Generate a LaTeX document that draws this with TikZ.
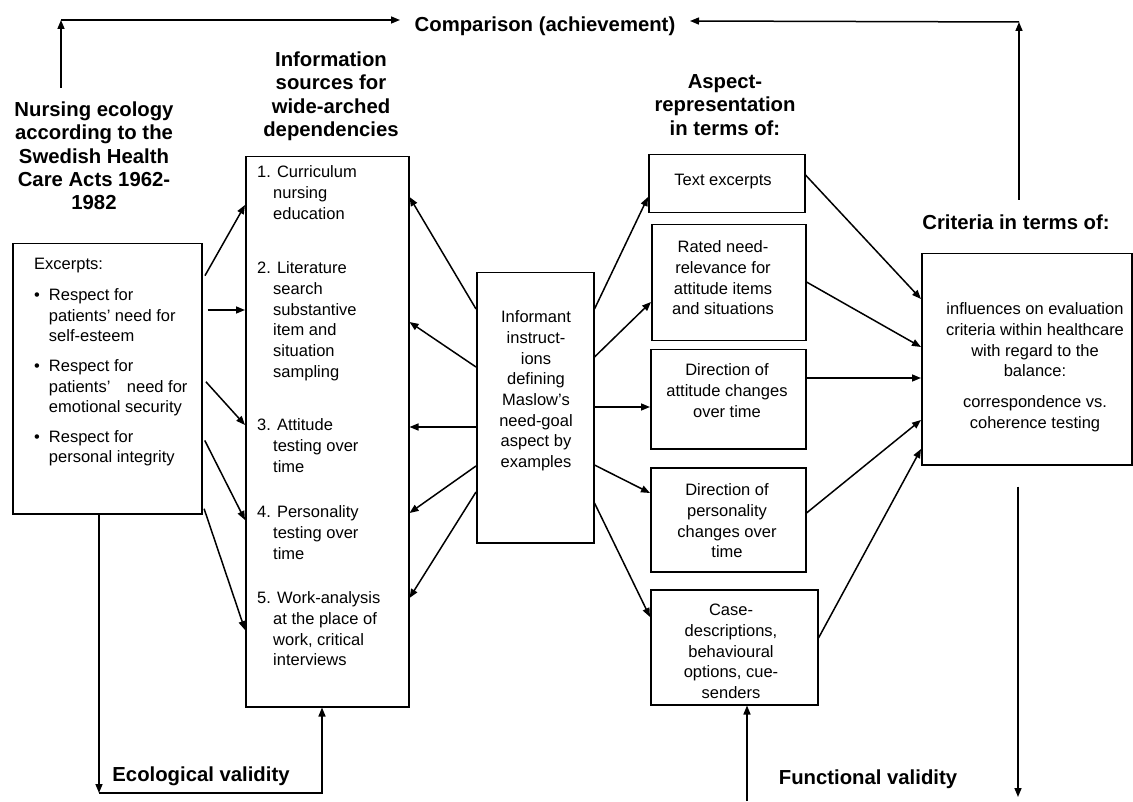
\documentclass[tikz,border=0pt]{standalone}
\usepackage{fontspec}
\setmainfont{Liberation Sans}
\usetikzlibrary{arrows.meta}
\begin{document}
\begin{tikzpicture}[x=1pt,y=-1pt,
  box/.style={draw, line width=1.5pt, inner sep=0pt, anchor=north west},
  arr/.style={line width=1.5pt, -{Triangle[length=9pt,width=7pt]}},
  ln/.style={line width=1.5pt},
  reg/.style={inner sep=0pt, font=\fontsize{16.5}{20.7}\selectfont},
  hd/.style={inner sep=0pt, font=\fontsize{20.3}{23.2}\selectfont\bfseries},
]
\useasboundingbox (0,0) rectangle (1133,802);

% ---------- boxes ----------
\node[box, minimum width=189pt, minimum height=270pt] (lb) at (12,243) {};
\node[box, minimum width=163pt, minimum height=550pt] (ib) at (245,156) {};
\node[box, minimum width=117pt, minimum height=270pt] (mb) at (476,272) {};
\node[box, minimum width=156pt, minimum height=58pt]  (t1) at (648,154) {};
\node[box, minimum width=154pt, minimum height=116pt] (t2) at (651,224) {};
\node[box, minimum width=155pt, minimum height=99pt]  (t3) at (650,349) {};
\node[box, minimum width=155pt, minimum height=104pt] (t4) at (650,467) {};
\node[box, minimum width=167pt, minimum height=115pt] (t5) at (650,589) {};
\node[box, minimum width=210pt, minimum height=211pt] (cb) at (921,253) {};

% ---------- headings ----------
\node[hd, anchor=north] (ne) at (94,100.3) {\begin{tabular}{@{}c@{}}Nursing ecology\\according to the\\Swedish Health\\Care Acts 1962-\\1982\end{tabular}};
\node[hd, anchor=north] (is) at (331,50.3) {\begin{tabular}{@{}c@{}}Information\\sources for\\wide-arched\\dependencies\end{tabular}};
\node[hd, anchor=north] (ar) at (725,72.3) {\begin{tabular}{@{}c@{}}Aspect-\\representation\\in terms of:\end{tabular}};
\node[hd, anchor=north] (cmp) at (545,15.3) {\begin{tabular}{@{}c@{}}Comparison (achievement)\end{tabular}};
\node[hd, anchor=north] (crt) at (1016,213.3) {\begin{tabular}{@{}c@{}}Criteria in terms of:\end{tabular}};
\node[hd, anchor=north] (eco) at (201,765.3) {\begin{tabular}{@{}c@{}}Ecological validity\end{tabular}};
\node[hd, anchor=north] (fun) at (868,768.3) {\begin{tabular}{@{}c@{}}Functional validity\end{tabular}};

% ---------- box texts ----------
\node[reg, anchor=north west] (lbt) at (34,255) {\begin{tabular}{@{}l@{\hspace{9pt}}l@{}}
\multicolumn{2}{@{}l@{}}{Excerpts:}\\[10pt]
\textbullet & Respect for\\
 & patients’ need for\\
 & self-esteem\\[9pt]
\textbullet & Respect for\\
 & patients’\quad need for\\
 & emotional security\\[8.5pt]
\textbullet & Respect for\\
 & personal integrity
\end{tabular}};

\node[reg, anchor=north west] (i1) at (257,163) {\begin{tabular}{@{}p{16pt}@{}l@{}}
\multicolumn{2}{@{}l@{}}{1. Curriculum}\\ & nursing\\ & education\end{tabular}};
\node[reg, anchor=north west] (i2) at (257,259) {\begin{tabular}{@{}p{16pt}@{}l@{}}
\multicolumn{2}{@{}l@{}}{2. Literature}\\ & search\\ & substantive\\ & item and\\ & situation\\ & sampling\end{tabular}};
\node[reg, anchor=north west] (i3) at (257,416) {\begin{tabular}{@{}p{16pt}@{}l@{}}
\multicolumn{2}{@{}l@{}}{3. Attitude}\\ & testing over\\ & time\end{tabular}};
\node[reg, anchor=north west] (i4) at (257,503) {\begin{tabular}{@{}p{16pt}@{}l@{}}
\multicolumn{2}{@{}l@{}}{4. Personality}\\ & testing over\\ & time\end{tabular}};
\node[reg, anchor=north west] (i5) at (257,589) {\begin{tabular}{@{}p{16pt}@{}l@{}}
\multicolumn{2}{@{}l@{}}{5. Work-analysis}\\ & at the place of\\ & work, critical\\ & interviews\end{tabular}};

\node[reg, anchor=north] (mbt) at (536,308) {\begin{tabular}{@{}c@{}}Informant\\instruct-\\ions\\defining\\Maslow’s\\need-goal\\aspect by\\examples\end{tabular}};

\node[reg, anchor=north] (t1t) at (723,171) {\begin{tabular}{@{}c@{}}Text excerpts\end{tabular}};
\node[reg, anchor=north] (t2t) at (723,238) {\begin{tabular}{@{}c@{}}Rated need-\\relevance for\\attitude items\\and situations\end{tabular}};
\node[reg, anchor=north] (t3t) at (727,361) {\begin{tabular}{@{}c@{}}Direction of\\attitude changes\\over time\end{tabular}};
\node[reg, anchor=north] (t4t) at (727,481) {\begin{tabular}{@{}c@{}}Direction of\\personality\\changes over\\time\end{tabular}};
\node[reg, anchor=north] (t5t) at (731,601) {\begin{tabular}{@{}c@{}}Case-\\descriptions,\\behavioural\\options, cue-\\senders\end{tabular}};

\node[reg, anchor=north] (cbt) at (1035,300) {\begin{tabular}{@{}c@{}}influences on evaluation\\criteria within healthcare\\with regard to the\\balance:\\[10pt]correspondence vs.\\coherence testing\end{tabular}};

% ---------- helper coordinates ----------
\coordinate (nstart) at (61,88);
\coordinate (tl) at (61,20);
\coordinate (cmpl) at (400,20);
\coordinate (cstart) at (1019,200);
\coordinate (tr) at (1019,22);
\coordinate (cmpr) at (690,21);
\coordinate (bl) at (99,793);
\coordinate (br) at (322,793);
\coordinate (fstart) at (747,801);
\coordinate (cend) at (1018,797);

% ---------- comparison loop ----------
\draw[arr] (nstart) -- (tl);
\draw[arr] (tl) -- (cmpl);
\draw[arr] (cstart) -- (tr);
\draw[arr] (tr) -- (cmpr);

% ---------- left box -> info box ----------
\draw[arr, shorten <=5pt] (lb.east |- 0,280) -- (ib.west |- 0,205);
\draw[arr, shorten <=5pt] (lb.east |- 0,310) -- (ib.west |- 0,310);
\draw[arr, shorten <=5pt] (lb.east |- 0,378) -- (ib.west |- 0,425);
\draw[arr, shorten <=5pt] (lb.east |- 0,436) -- (ib.west |- 0,520);
\draw[arr, shorten <=5pt] (lb.east |- 0,504) -- (ib.west |- 0,630);

% ---------- informant -> info box ----------
\draw[arr] (mb.west |- 0,309) -- (ib.east |- 0,197);
\draw[arr] (mb.west |- 0,367) -- (ib.east |- 0,322);
\draw[arr] (mb.west |- 0,427) -- (ib.east |- 0,427);
\draw[arr] (mb.west |- 0,466) -- (ib.east |- 0,513);
\draw[arr] (mb.west |- 0,492) -- (ib.east |- 0,598);

% ---------- informant -> aspect boxes ----------
\draw[arr] (mb.east |- 0,309) -- (t1.west |- 0,197);
\draw[arr] (mb.east |- 0,357) -- (t2.west |- 0,302);
\draw[arr] (mb.east |- 0,407) -- (t3.west |- 0,407);
\draw[arr] (mb.east |- 0,465) -- (t4.west |- 0,493);
\draw[arr] (mb.east |- 0,503) -- (t5.west |- 0,617);

% ---------- aspect boxes -> criteria ----------
\draw[arr] (t1.east |- 0,175) -- (cb.west |- 0,299);
\draw[arr] (t2.east |- 0,282) -- (cb.west |- 0,347);
\draw[arr] (t3.east |- 0,378) -- (cb.west |- 0,378);
\draw[arr] (t4.east |- 0,513) -- (cb.west |- 0,420);
\draw[arr] (t5.east |- 0,638) -- (cb.west |- 0,449);

% ---------- validities ----------
\draw[arr] (lb.south -| bl) -- (bl);
\draw[arr] (bl) -- (br) -- (ib.south -| br);
\draw[arr] (fstart) -- (t5.south -| fstart);
\draw[arr] (cb.south -| cend) ++(0,21) -- (cend);
\end{tikzpicture}
\end{document}
